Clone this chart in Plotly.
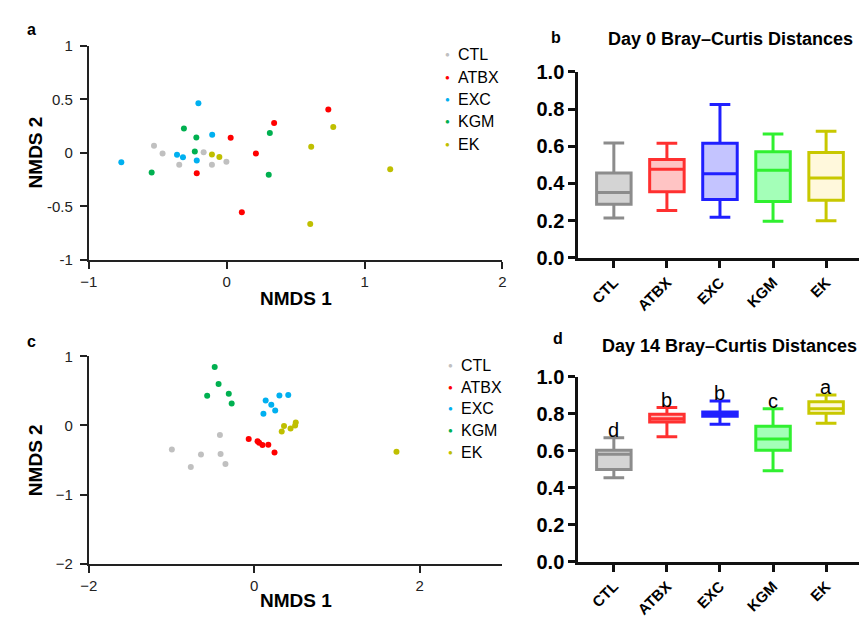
import plotly.graph_objects as go

groups = ["CTL", "ATBX", "EXC", "KGM", "EK"]
colors = ["#c0c0c0", "#ff0000", "#00b0f0", "#00b050", "#bfbf00"]

# Panel a: Day 0 NMDS
a_x = {
    "CTL": [-0.527, -0.465, -0.344, -0.167, -0.107, -0.002],
    "ATBX": [0.029, 0.212, 0.344, 0.737, 0.110, -0.217],
    "EXC": [-0.764, -0.205, -0.105, -0.360, -0.317, -0.217],
    "KGM": [-0.544, -0.310, -0.220, -0.231, 0.313, 0.305],
    "EK": [-0.107, -0.053, 0.613, 0.773, 0.606, 1.186],
}
a_y = {
    "CTL": [0.066, -0.006, -0.111, 0.006, -0.111, -0.084],
    "ATBX": [0.141, -0.006, 0.279, 0.405, -0.556, -0.192],
    "EXC": [-0.087, 0.462, 0.168, -0.018, -0.042, -0.072],
    "KGM": [-0.183, 0.228, 0.144, 0.012, 0.186, -0.204],
    "EK": [-0.015, -0.039, 0.057, 0.240, -0.664, -0.153],
}

# Panel c: Day 14 NMDS
c_x = {
    "CTL": [-0.996, -0.767, -0.644, -0.415, -0.407, -0.348],
    "ATBX": [-0.067, 0.040, 0.059, 0.099, 0.170, 0.245],
    "EXC": [0.111, 0.138, 0.206, 0.253, 0.304, 0.411],
    "KGM": [-0.478, -0.431, -0.569, -0.308, -0.273],
    "EK": [0.332, 0.360, 0.439, 0.494, 0.502, 1.719],
}
c_y = {
    "CTL": [-0.347, -0.602, -0.421, -0.139, -0.412, -0.556],
    "ATBX": [-0.194, -0.227, -0.250, -0.282, -0.278, -0.389],
    "EXC": [0.171, 0.361, 0.301, 0.218, 0.435, 0.440],
    "KGM": [0.847, 0.602, 0.431, 0.458, 0.319],
    "EK": [-0.088, -0.009, -0.042, 0.000, 0.042, -0.380],
}

# Panel b: Day 0 Bray-Curtis box stats
b_low = [0.214, 0.255, 0.219, 0.197, 0.200]
b_q1 = [0.288, 0.355, 0.314, 0.303, 0.310]
b_med = [0.352, 0.476, 0.452, 0.471, 0.429]
b_q3 = [0.457, 0.529, 0.616, 0.571, 0.566]
b_high = [0.617, 0.616, 0.824, 0.666, 0.681]

# Panel d: Day 14 Bray-Curtis box stats
d_low = [0.454, 0.675, 0.743, 0.492, 0.748]
d_q1 = [0.499, 0.755, 0.786, 0.603, 0.802]
d_med = [0.581, 0.772, 0.797, 0.663, 0.826]
d_q3 = [0.602, 0.797, 0.809, 0.732, 0.864]
d_high = [0.670, 0.833, 0.868, 0.826, 0.901]
d_letters = ["d", "b", "b", "c", "a"]

box_line = ["#8c8c8c", "#ff3030", "#2020ff", "#30f030", "#c8c800"]
box_fill = ["#d4d4d4", "#ffc4c4", "#c4c4ff", "#a4ffb8", "#fff8dc"]

FONT = "Arial, Liberation Sans, sans-serif"
W, H = 863, 623
fig = go.Figure()

for i, g in enumerate(groups):
    fig.add_trace(go.Scatter(x=a_x[g], y=a_y[g], mode="markers", name=g, showlegend=False,
                             marker=dict(color=colors[i], size=6),
                             xaxis="x", yaxis="y"))
for i, g in enumerate(groups):
    fig.add_trace(go.Scatter(x=c_x[g], y=c_y[g], mode="markers", name=g, showlegend=False,
                             marker=dict(color=colors[i], size=6),
                             xaxis="x3", yaxis="y3"))

for i, g in enumerate(groups):
    fig.add_trace(go.Box(x=[g], q1=[b_q1[i]], median=[b_med[i]], q3=[b_q3[i]],
                         lowerfence=[b_low[i]], upperfence=[b_high[i]],
                         width=0.65, whiskerwidth=0.6, fillcolor=box_fill[i],
                         line=dict(color=box_line[i], width=3),
                         showlegend=False, xaxis="x2", yaxis="y2"))
    fig.add_trace(go.Box(x=[g], q1=[d_q1[i]], median=[d_med[i]], q3=[d_q3[i]],
                         lowerfence=[d_low[i]], upperfence=[d_high[i]],
                         width=0.65, whiskerwidth=0.6, fillcolor=box_fill[i],
                         line=dict(color=box_line[i], width=3),
                         showlegend=False, xaxis="x4", yaxis="y4"))

annotations = []
# significance letters
for i, g in enumerate(groups):
    annotations.append(dict(x=g, y=d_high[i], xref="x4", yref="y4", text=d_letters[i],
                            showarrow=False, yanchor="bottom", yshift=-5,
                            font=dict(size=20, color="black", family=FONT)))

# panel letters
for txt, xp, yp in [("a", 16, 19), ("b", 548, 27), ("c", 16, 343), ("d", 550, 340)]:
    annotations.append(dict(x=xp / W, y=1 - yp / H, xref="paper", yref="paper",
                            text="<b>" + txt + "</b>", showarrow=False,
                            xanchor="left", yanchor="middle",
                            font=dict(size=16, color="black", family=FONT)))

# box panel titles
for txt, xp, yp in [("Day 0 Bray\u2013Curtis Distances", 606, 29),
                    ("Day 14 Bray\u2013Curtis Distances", 600, 347)]:
    annotations.append(dict(x=xp / W, y=1 - yp / H, xref="paper", yref="paper",
                            text="<b>" + txt + "</b>", showarrow=False,
                            xanchor="left", yanchor="middle",
                            font=dict(size=18, color="black", family=FONT)))

# NMDS axis titles
for ypx_x, ypx_y in [(298, 147), (611, 466)]:
    annotations.append(dict(x=291 / W, xref="paper", y=1 - ypx_x / H, yref="paper",
                            text="<b>NMDS 1</b>",
                            showarrow=False, xanchor="center", yanchor="middle",
                            font=dict(size=19, color="black", family=FONT)))
    annotations.append(dict(x=27 / W, xref="paper", y=1 - ypx_y / H, yref="paper",
                            text="<b>NMDS 2</b>",
                            showarrow=False, textangle=-90, xanchor="center", yanchor="middle",
                            font=dict(size=19, color="black", family=FONT)))

# manual legends
leg_a_rows = [45, 69, 92, 115, 138]
leg_c_rows = [367, 390, 412, 435, 458]
for rows, xdot in [(leg_a_rows, 445), (leg_c_rows, 448)]:
    for i, g in enumerate(groups):
        annotations.append(dict(x=xdot / W, y=1 - rows[i] / H, xref="paper", yref="paper",
                                text="\u25cf", showarrow=False, xanchor="center", yanchor="middle",
                                font=dict(size=8, color=colors[i], family=FONT)))
        annotations.append(dict(x=(xdot + 9) / W, y=1 - rows[i] / H, xref="paper", yref="paper",
                                text=g, showarrow=False, xanchor="left", yanchor="middle",
                                font=dict(size=16, color="black", family=FONT)))

sc_axis = dict(showline=True, linecolor="#222222", linewidth=2, ticks="outside",
               ticklen=7, tickwidth=2, tickcolor="#222222", showgrid=False, zeroline=False,
               tickfont=dict(size=15, color="#222222", family=FONT))
bx_axis = dict(showline=True, linecolor="#111111", linewidth=3, ticks="outside",
               ticklen=7, tickwidth=3, tickcolor="#111111", showgrid=False, zeroline=False)

fig.update_layout(
    width=W, height=H, margin=dict(l=0, r=0, t=0, b=0),
    paper_bgcolor="white", plot_bgcolor="white",
    font=dict(family=FONT, color="black"),
    showlegend=False,
    xaxis=dict(sc_axis, domain=[81 / W, 501 / W], range=[-1, 2], tickvals=[-1, 0, 1, 2],
               anchor="y"),
    yaxis=dict(sc_axis, domain=[1 - 258 / H, 1 - 36 / H], range=[-1, 1],
               tickvals=[-1, -0.5, 0, 0.5, 1], ticktext=["-1", "-0.5", "0", "0.5", "1"],
               anchor="x", ticklabelstandoff=4),
    xaxis3=dict(sc_axis, domain=[81 / W, 501 / W], range=[-2, 3], tickvals=[-2, 0, 2],
                anchor="y3"),
    yaxis3=dict(sc_axis, domain=[1 - 573 / H, 1 - 358 / H], range=[-2, 1],
                tickvals=[-2, -1, 0, 1], anchor="x3", ticklabelstandoff=4),
    xaxis2=dict(bx_axis, domain=[578 / W, 1.0], range=[-0.67, 4.62], anchor="y2",
                type="category", categoryorder="array", categoryarray=groups,
                tickangle=-45, tickfont=dict(size=15, family=FONT, color="black", weight="bold")),
    yaxis2=dict(bx_axis, domain=[1 - 256 / H, 1 - 63 / H], range=[0, 1.0],
                tickvals=[0, 0.2, 0.4, 0.6, 0.8, 1.0], tickformat=".1f", anchor="x2",
                tickfont=dict(size=20, family=FONT, color="black", weight="bold")),
    xaxis4=dict(bx_axis, domain=[578 / W, 1.0], range=[-0.67, 4.62], anchor="y4",
                type="category", categoryorder="array", categoryarray=groups,
                tickangle=-45, tickfont=dict(size=15, family=FONT, color="black", weight="bold")),
    yaxis4=dict(bx_axis, domain=[1 - 571 / H, 1 - 379 / H], range=[0, 1.0],
                tickvals=[0, 0.2, 0.4, 0.6, 0.8, 1.0], tickformat=".1f", anchor="x4",
                tickfont=dict(size=20, family=FONT, color="black", weight="bold")),
    annotations=annotations,
)

fig.write_html("out.html")
